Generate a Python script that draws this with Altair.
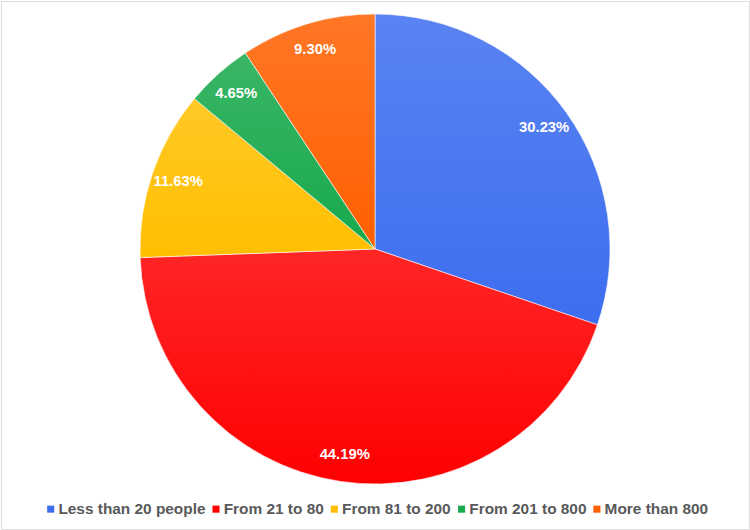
import altair as alt
import pandas as pd

# Share of respondents by group size
categories = ["Less than 20 people", "From 21 to 80", "From 81 to 200", "From 201 to 800", "More than 800"]
shares = [30.23, 44.19, 11.63, 4.65, 9.30]
labels = ["30.23%", "44.19%", "11.63%", "4.65%", "9.30%"]
palette = ["#3d6ef0", "#ff0000", "#ffbf00", "#17a94b", "#ff5f00"]

df = pd.DataFrame({
    "category": categories,
    "share": shares,
    "label": labels,
    "idx": list(range(len(categories))),
})

CX, CY, R = 374, 248, 235

base = alt.Chart(df).encode(
    theta=alt.Theta("share:Q", stack=True),
    order=alt.Order("idx:Q"),
    x=alt.value(CX),
    y=alt.value(CY),
)

slices = base.mark_arc(radius=R, stroke="#ffffff", strokeWidth=0.6).encode(
    color=alt.Color(
        "category:N",
        sort=categories,
        scale=alt.Scale(domain=categories, range=palette),
        legend=alt.Legend(
            title=None,
            orient="none",
            direction="horizontal",
            legendX=42,
            legendY=500,
            symbolType="square",
            symbolSize=50,
            symbolStrokeWidth=0,
            labelFontSize=15.4,
            labelFont="Liberation Sans",
            labelFontWeight="bold",
            labelColor="#595959",
            columnPadding=2.3,
            symbolOffset=0,
            labelOffset=0,
        ),
    )
)

# soft top-to-bottom highlight on each slice
sheen = base.mark_arc(
    radius=R,
    fill=alt.Gradient(
        gradient="linear",
        x1=0, y1=0, x2=0, y2=1,
        stops=[
            alt.GradientStop(color="rgba(255,255,255,0.15)", offset=0),
            alt.GradientStop(color="rgba(255,255,255,0)", offset=1),
        ],
    ),
)

text = base.mark_text(
    radius=208,
    font="Liberation Sans",
    fontSize=14.8,
    fontWeight="bold",
    color="#ffffff",
).encode(text="label:N")

chart = (
    alt.layer(slices, sheen, text)
    .properties(width=748, height=528, autosize="none", padding=1)
    .configure_view(stroke="#d9d9d9", strokeWidth=2)
    .configure(background="#ffffff")
)

chart.save("out.html", embed_options={"renderer": "svg", "actions": False})
